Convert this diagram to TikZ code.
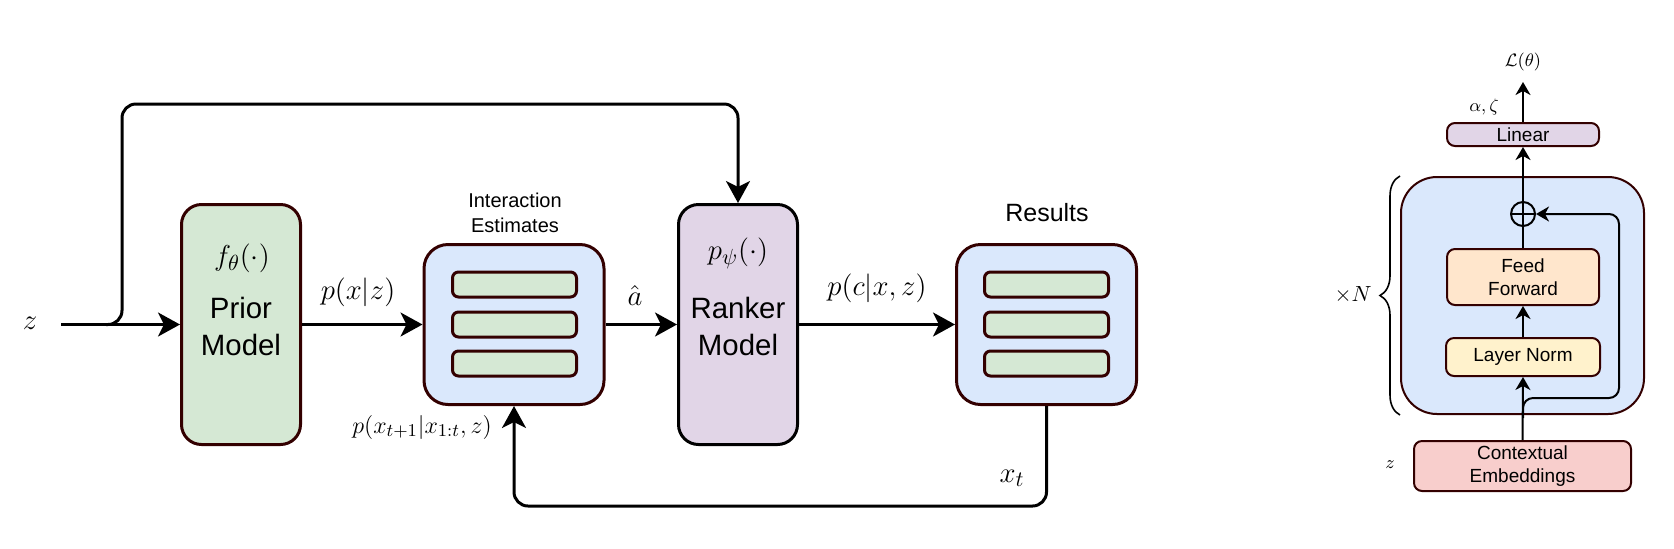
\documentclass[tikz,border=0pt]{standalone}
\usepackage[no-math]{fontspec}
\newfontfamily\helvfont{Liberation Sans}
\usepackage{tikz}
\usetikzlibrary{shapes, arrows.meta, positioning, decorations.pathreplacing}
\definecolor{PriorGreen}{HTML}{D5E8D4}
\definecolor{EstBlue}{HTML}{DAE8FC}
\definecolor{RankPurple}{HTML}{E1D5E7}
\definecolor{FFOrange}{HTML}{FFE6CC}
\definecolor{NormYellow}{HTML}{FFF2CC}
\definecolor{EmbRed}{HTML}{F8CECC}
\definecolor{EdgeBrown}{HTML}{330000}

\begin{document}
\begin{tikzpicture}[
        x=0.5pt, y=-0.5pt,
        model/.style={rectangle, draw=EdgeBrown, line width=1.5pt, rounded corners=10pt, minimum width=59.5pt, minimum height=120pt, inner sep=0pt},
        listbox/.style={rectangle, draw=EdgeBrown, fill=EstBlue, line width=1.5pt, rounded corners=12pt, minimum width=90pt, minimum height=80pt, inner sep=0pt},
        bar/.style={rectangle, draw=EdgeBrown, fill=PriorGreen, line width=1.5pt, rounded corners=3pt, minimum width=62pt, minimum height=12.5pt, inner sep=0pt},
        layer/.style={rectangle, draw=EdgeBrown, line width=1pt, rounded corners=4pt, minimum width=76pt, align=center, inner sep=0pt, font=\helvfont\fontsize{9.5}{11.3}\selectfont},
        modeltext/.style={align=center, font=\helvfont\fontsize{14.7}{18.5}\selectfont},
        mathlbl/.style={font=\fontsize{15}{18}\selectfont},
        smallmath/.style={font=\fontsize{9.5}{11}\selectfont},
        arrow/.style={-{Stealth[length=11pt, width=12pt, inset=3pt]}, line width=1.5pt},
        thinarrow/.style={-{Stealth[length=6.5pt, width=7.5pt, inset=2pt]}, line width=1pt}
    ]
        \useasboundingbox (0,0) rectangle (1674,548);

        % Prior and ranker models
        \node[model, fill=PriorGreen] (prior) at (241,324.5) {};
        \node[model, fill=RankPurple, draw=black] (ranker) at (738,324.5) {};
        \node[mathlbl] (fprior) at (242,258) {$f_\theta(\cdot)$};
        \node[modeltext] (priorlbl) at (241,326.5) {Prior\\Model};
        \node[mathlbl] (pranker) at (738,253) {$p_\psi(\cdot)$};
        \node[modeltext] (rankerlbl) at (738,326.5) {Ranker\\Model};

        % Interaction estimates and results, three bars each
        \node[listbox] (est) at (514,324.5) {};
        \node[listbox] (res) at (1046.5,324.5) {};
        \foreach \i/\y in {1/284.5, 2/324.5, 3/363.5} {
            \node[bar] (est\i) at (514.5,\y) {};
            \node[bar] (res\i) at (1046.5,\y) {};
        }
        \node[align=center, font=\helvfont\fontsize{10}{12.5}\selectfont] (estlbl) at (515,213) {Interaction\\Estimates};
        \node[font=\helvfont\fontsize{12.5}{15}\selectfont] (reslbl) at (1047,213) {Results};

        % Input and main chain
        \node[mathlbl] (zin) at (30,323) {$z$};
        \coordinate (zstart) at (61,324.5);
        \coordinate (split) at (106,324.5);
        \draw[arrow] (zstart) -- (prior.west);
        \draw[arrow] (prior.east) -- (est.west);
        \draw[arrow] (est.east) -- (ranker.west);
        \draw[arrow] (ranker.east) -- (res.west);
        \draw[arrow, rounded corners=7pt] (split) -| (122,104) -| (ranker.north);
        \draw[arrow, rounded corners=7pt] (res.south) -- ++(0,100) -| (est.south);

        % Edge labels
        \node[mathlbl] (pxz) at (358,292) {$p(x|z)$};
        \node[mathlbl] (ahat) at (635,295) {$\hat{a}$};
        \node[mathlbl] (pcxz) at (877,288) {$p(c|x,z)$};
        \node[mathlbl] (xt) at (1012,478) {$x_t$};
        \node[font=\fontsize{12.5}{15}\selectfont] (pnext) at (422,427) {$p(x_{t+1}|x_{1:t},z)$};

        % Transformer block
        \node[rectangle, draw=EdgeBrown, fill=EstBlue, line width=1pt, rounded corners=18pt, minimum width=121.5pt, minimum height=118.5pt] (block) at (1522.5,295.5) {};
        \node[layer, fill=EmbRed, minimum width=108.5pt, minimum height=25pt] (emb) at (1522.5,466) {Contextual\\Embeddings};
        \node[layer, fill=NormYellow, minimum width=77pt, minimum height=19pt] (norm) at (1523,357) {Layer Norm};
        \node[layer, fill=FFOrange, minimum height=28pt] (ff) at (1523,277) {Feed\\Forward};
        \node[circle, draw, line width=1pt, minimum size=12pt, inner sep=0pt] (plus) at (1523,214) {};
        \node[layer, fill=RankPurple, minimum height=11.5pt] (linear) at (1523,134.5) {Linear};
        \coordinate (lossend) at (1523,82);
        \node[smallmath] (loss) at (1523,62) {$\mathcal{L}(\theta)$};
        \node[smallmath] (outlbl) at (1484,107) {$\alpha,\zeta$};
        \node[smallmath] (zemb) at (1390,465) {$z$};
        \node[font=\fontsize{10.5}{12}\selectfont] (times) at (1353,295) {$\times N$};
        \draw[line width=0.8pt, decorate, decoration={brace, amplitude=10pt}] (1400,415) -- (1400,176);

        % Block connections
        \draw[thinarrow] (emb.north) -- (norm.south);
        \draw[thinarrow] (norm.north) -- (ff.south);
        \draw[line width=1pt] (ff.north) -- (plus.south);
        \draw[line width=1pt] (plus.north) -- (plus.south) (plus.west) -- (plus.east);
        \draw[thinarrow] (plus.north) -- (linear.south);
        \draw[thinarrow] (linear.north) -- (lossend);
        \coordinate (resid) at (1523,418);
        \draw[thinarrow, rounded corners=5pt] (resid) |- (1619,398) |- (plus.east);
    \end{tikzpicture}
\end{document}
